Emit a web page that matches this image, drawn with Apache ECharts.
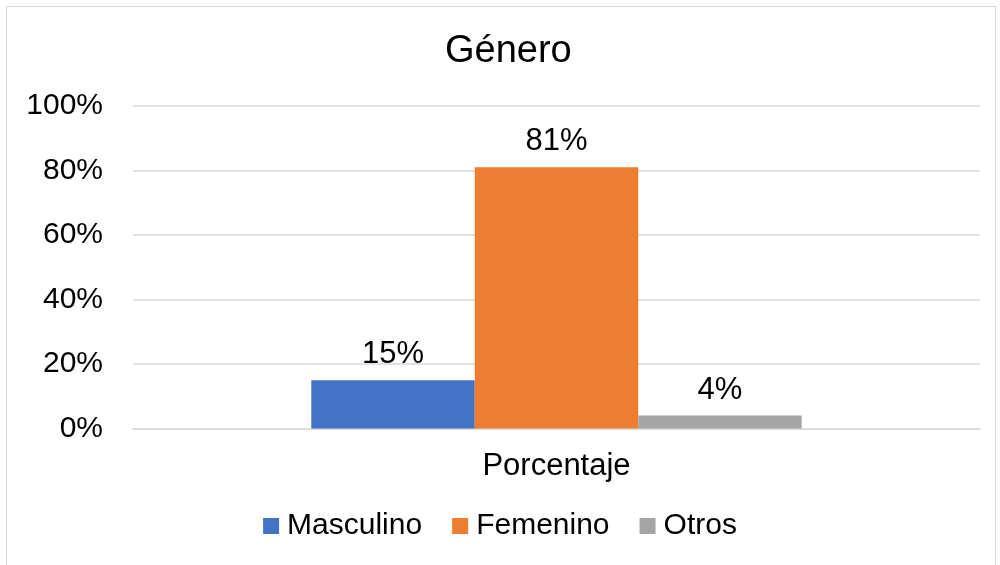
<!DOCTYPE html>
<html>
<head>
<meta charset="utf-8">
<script src="https://cdn.jsdelivr.net/npm/echarts@6/dist/echarts.min.js"></script>
<style>
  html, body { margin: 0; padding: 0; background: #fff; }
  #main { width: 1000px; height: 565px; position: relative; }
  #frame { position: absolute; left: 6px; top: 6px; width: 990px; height: 570px; border: 1px solid #d9d9d9; box-sizing: border-box; pointer-events: none; }
</style>
</head>
<body>
<div id="main"></div>
<div id="frame"></div>
<script>
var categories = ['Porcentaje'];
var seriesNames = ['Masculino', 'Femenino', 'Otros'];
var masculino = [15];
var femenino = [81];
var otros = [4];
var yTicks = [0, 20, 40, 60, 80, 100];

var colors = ['#4472c4', '#ed7d31', '#a5a5a5'];
var font = 'Liberation Sans, Arial, sans-serif';

var myChart = echarts.init(document.getElementById('main'));

function makeSeries(name, data, color) {
    return {
        name: name,
        type: 'bar',
        barGap: '0%',
        barCategoryGap: '42.1%',
        itemStyle: { color: color },
        label: {
            show: true,
            position: 'top',
            distance: 10,
            formatter: '{c}%',
            color: '#000',
            fontFamily: font,
            fontSize: 31
        },
        data: data
    };
}

var option = {
    animation: false,
    title: {
        text: 'Género',
        left: 440,
        top: 28,
        textStyle: { fontFamily: font, fontSize: 38, fontWeight: 'normal', color: '#000' }
    },
    legend: {
        data: seriesNames,
        bottom: 19,
        left: 'center',
        itemWidth: 16,
        itemHeight: 16,
        itemGap: 30,
        icon: 'rect',
        textStyle: { fontFamily: font, fontSize: 30, color: '#000', padding: [0, 0, 0, 3] }
    },
    grid: {
        left: 133,
        right: 20,
        top: 106,
        bottom: 136.5
    },
    xAxis: {
        type: 'category',
        data: categories,
        axisLine: { lineStyle: { color: '#d9d9d9', width: 1.5 } },
        axisTick: { show: false },
        axisLabel: { fontFamily: font, fontSize: 31, color: '#000', margin: 22 }
    },
    yAxis: {
        type: 'value',
        min: yTicks[0],
        max: yTicks[yTicks.length - 1],
        interval: 20,
        axisLine: { show: false },
        axisTick: { show: false },
        splitLine: { lineStyle: { color: '#d9d9d9', width: 1.5 } },
        axisLabel: { formatter: '{value}%', fontFamily: font, fontSize: 30, color: '#000', margin: 30 }
    },
    series: [
        makeSeries(seriesNames[0], masculino, colors[0]),
        makeSeries(seriesNames[1], femenino, colors[1]),
        makeSeries(seriesNames[2], otros, colors[2])
    ]
};

myChart.setOption(option);
</script>
</body>
</html>
